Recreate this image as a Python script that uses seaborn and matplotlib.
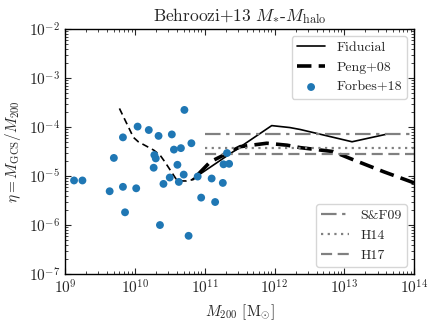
import numpy as np
import matplotlib
matplotlib.use("Agg")
import matplotlib.pyplot as plt
import seaborn as sns
import pandas as pd

sns.set_style("ticks")
plt.rcParams['font.family'] = ['cmr10', 'DejaVu Serif']
plt.rcParams['mathtext.fontset'] = 'cm'
plt.rcParams['axes.formatter.use_mathtext'] = True

# Forbes+18 data (log10 M200, log10 eta)
forbes_logm = [9.13, 9.25, 9.64, 9.70, 9.83, 9.83, 9.86, 10.02, 10.04, 10.20,
               10.27, 10.28, 10.30, 10.34, 10.36, 10.41, 10.50, 10.53, 10.56, 10.61,
               10.63, 10.66, 10.70, 10.71, 10.77, 10.81, 10.90, 10.95, 11.10, 11.15,
               11.26, 11.27, 11.32, 11.35]
forbes_logeta = [-5.09, -5.09, -5.31, -4.63, -4.21, -5.22, -5.74, -5.25, -3.99, -4.06,
                 -4.83, -4.57, -4.64, -4.18, -6.00, -5.16, -5.03, -4.15, -4.46, -4.77,
                 -5.12, -4.43, -4.97, -3.65, -6.22, -4.33, -5.01, -5.44, -5.05, -5.53,
                 -5.14, -4.76, -4.53, -4.75]

# Fiducial model
fid_logm = [10.82, 11.96, 12.22, 12.37, 13.11, 13.59]
fid_logeta = [-5.07, -3.97, -4.01, -4.05, -4.30, -4.15]

# Peng+08 (thick dashed)
peng_logm = [10.91, 11.08, 11.22, 11.51, 11.89, 12.18, 12.37, 12.84, 13.08, 13.56, 14.0]
peng_logeta = [-4.96, -4.71, -4.61, -4.40, -4.33, -4.37, -4.42, -4.50, -4.64, -4.91, -5.14]

# thin dashed extension at low mass
low_logm = [9.78, 9.98, 10.05, 10.27, 10.36, 10.43, 10.60, 10.67, 10.74, 10.84, 10.91]
low_logeta = [-3.62, -4.21, -4.30, -4.47, -4.57, -4.71, -5.08, -5.10, -5.10, -5.07, -4.96]

# constant ratios
ref_labels = ["S&F09", "H14", "H17"]
ref_values = [7.1e-5, 3.8e-5, 2.85e-5]
ref_range = [1e11, 1e14]

fig = plt.figure(figsize=(4.36, 3.27), dpi=100)
ax = fig.add_axes([0.149, 0.162, 0.801, 0.749])

df_f = pd.DataFrame({"M": 10 ** np.array(forbes_logm), "eta": 10 ** np.array(forbes_logeta)})
df_fid = pd.DataFrame({"M": 10 ** np.array(fid_logm), "eta": 10 ** np.array(fid_logeta)})
df_peng = pd.DataFrame({"M": 10 ** np.array(peng_logm), "eta": 10 ** np.array(peng_logeta)})
df_low = pd.DataFrame({"M": 10 ** np.array(low_logm), "eta": 10 ** np.array(low_logeta)})

ax.set_xscale("log")
ax.set_yscale("log")

l1, = ax.plot(df_fid.M, df_fid.eta, color="black", lw=1.2, label="Fiducial")
sns.lineplot(data=df_peng, x="M", y="eta", ax=ax, color="black", lw=2.6,
             linestyle=(0, (4, 2)), sort=False, estimator=None)
l2 = ax.lines[-1]
l2.set_label("Peng+08")
sns.lineplot(data=df_low, x="M", y="eta", ax=ax, color="black", lw=1.2,
             linestyle=(0, (4, 2.5)), sort=False, estimator=None)
sns.scatterplot(data=df_f, x="M", y="eta", ax=ax, color="#1f77b4", s=32,
                edgecolor="none", zorder=3)
sc = ax.collections[-1]
sc.set_label("Forbes+18")

styles = [(0, (7, 2.5, 1.5, 2.5)), (0, (1, 2)), (0, (5, 2.5))]
ref_lines = []
for lab, v, ls in zip(ref_labels, ref_values, styles):
    ln, = ax.plot(ref_range, [v, v], color="0.5", lw=1.6, linestyle=ls, label=lab)
    ref_lines.append(ln)

ax.set_xlim(1e9, 1e14)
ax.set_ylim(1e-7, 1e-2)
ax.tick_params(which="both", direction="in", top=True, right=True, labelsize=11)
ax.tick_params(which="major", length=4)
ax.tick_params(which="minor", length=2)
ax.xaxis.set_minor_locator(matplotlib.ticker.LogLocator(base=10, subs=np.arange(2, 10), numticks=20))
ax.yaxis.set_minor_locator(matplotlib.ticker.LogLocator(base=10, subs=np.arange(2, 10), numticks=20))
ax.xaxis.set_minor_formatter(matplotlib.ticker.NullFormatter())
ax.yaxis.set_minor_formatter(matplotlib.ticker.NullFormatter())

ax.set_xlabel(r"$M_{200}$ [M$_{\odot}$]", fontsize=11)
ax.set_ylabel(r"$\eta = M_{\rm GCS}/M_{200}$", fontsize=11)
ax.set_title(r"Behroozi+13 $M_{*}$-$M_{\rm halo}$", fontsize=12.5, pad=6)

leg1 = ax.legend(handles=[l1, l2, sc], labels=["Fiducial", "Peng+08", "Forbes+18"],
                 loc="upper right", fontsize=10, handlelength=2.0, borderaxespad=0.5)
ax.add_artist(leg1)
ax.legend(handles=ref_lines, labels=ref_labels, loc="lower right", fontsize=10,
          handlelength=2.0, borderaxespad=0.5)

for s in ax.spines.values():
    s.set_linewidth(1.0)
    s.set_color("black")

fig.savefig("out.png", dpi=100)
